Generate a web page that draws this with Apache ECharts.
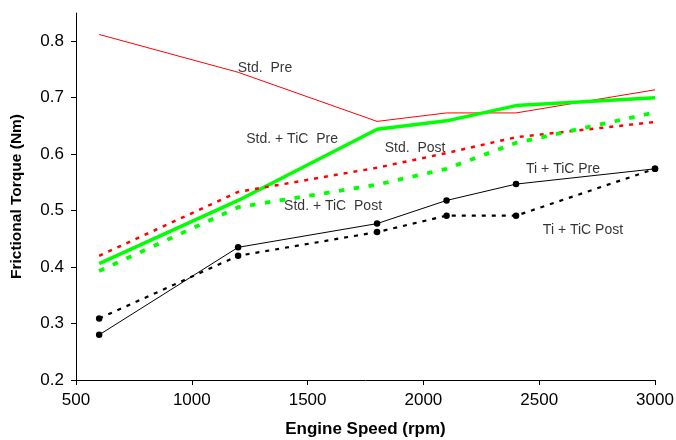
<!DOCTYPE html>
<html><head><meta charset="utf-8">
<script src="https://cdn.jsdelivr.net/npm/echarts@6/dist/echarts.min.js"></script>
<style>html,body{margin:0;padding:0;background:#fff}#c{width:676px;height:440px}</style>
</head><body><div id="c"></div>
<script>
var speeds = [600, 1200, 1800, 2100, 2400, 3000];
var stdPre = [0.812, 0.745, 0.658, 0.673, 0.673, 0.714];
var stdTicPre = [0.406, 0.518, 0.644, 0.659, 0.686, 0.700];
var stdPost = [0.420, 0.533, 0.576, 0.602, 0.630, 0.657];
var stdTicPost = [0.393, 0.506, 0.546, 0.574, 0.620, 0.674];
var tiTicPre = [0.280, 0.435, 0.477, 0.518, 0.547, 0.574];
var tiTicPost = [0.309, 0.420, 0.462, 0.491, 0.491, 0.574];
var yTicks = [0.2, 0.3, 0.4, 0.5, 0.6, 0.7, 0.8];
var xTicks = [500, 1000, 1500, 2000, 2500, 3000];
var labelTexts = ['Std.  Pre', 'Std. + TiC  Pre', 'Std.  Post', 'Ti + TiC Pre', 'Std. + TiC  Post', 'Ti + TiC Post'];
var labelX = [1316, 1433, 1964, 2603, 1610, 2689];
var labelY = [0.753, 0.627, 0.610, 0.574, 0.508, 0.466];

function pairs(ys){ return speeds.map(function(x,i){ return [x, ys[i]]; }); }
var FONT = 'Liberation Sans, Arial, sans-serif';
var chart = echarts.init(document.getElementById('c'));
chart.setOption({
  animation: false,
  grid: {left: 76, right: 21, top: 13, bottom: 60, outerBoundsMode: 'none', containLabel: false},
  xAxis: {
    type: 'value', min: 500, max: 3000, interval: 500,
    name: 'Engine Speed (rpm)', nameLocation: 'middle', nameGap: 41,
    nameTextStyle: {fontFamily: FONT, fontWeight: 'bold', fontSize: 17, color: '#000'},
    axisLine: {lineStyle: {color: '#000', width: 1}},
    axisTick: {show: true, length: 5, customValues: xTicks, lineStyle: {color: '#000'}},
    axisLabel: {fontFamily: FONT, fontSize: 17, color: '#000', margin: 12, customValues: xTicks,
      formatter: function(v){ return String(v); }},
    splitLine: {show: false}
  },
  yAxis: {
    type: 'value', min: 0.2, max: 0.85,
    name: 'Frictional Torque (Nm)', nameLocation: 'middle', nameGap: 51,
    nameTextStyle: {fontFamily: FONT, fontWeight: 'bold', fontSize: 15.5, color: '#000'},
    axisLine: {show: true, lineStyle: {color: '#000', width: 1}},
    axisTick: {show: true, length: 5, customValues: yTicks, lineStyle: {color: '#000'}},
    axisLabel: {fontFamily: FONT, fontSize: 17, color: '#000', margin: 12, customValues: yTicks,
      formatter: function(v){ return v.toFixed(1); }},
    splitLine: {show: false}
  },
  series: [
    {type: 'line', data: pairs(stdPre), symbol: 'none', lineStyle: {color: '#ff0000', width: 1}},
    {type: 'line', data: pairs(stdTicPre), symbol: 'none', lineStyle: {color: '#00ff00', width: 3.5}},
    {type: 'line', data: pairs(stdPost), symbol: 'none', lineStyle: {color: '#ff0000', width: 2.5, type: [4, 6]}},
    {type: 'line', data: pairs(stdTicPost), symbol: 'none', lineStyle: {color: '#00ff00', width: 3.8, type: [5.5, 9.5]}},
    {type: 'line', data: pairs(tiTicPre), symbol: 'circle', symbolSize: 6.5, itemStyle: {color: '#000'}, lineStyle: {color: '#000', width: 1}},
    {type: 'line', data: pairs(tiTicPost), symbol: 'circle', symbolSize: 6.5, itemStyle: {color: '#000'}, lineStyle: {color: '#000', width: 2.2, type: [4, 6]}},
    {type: 'scatter', symbolSize: 0, silent: true,
      data: labelTexts.map(function(t,i){ return {value: [labelX[i], labelY[i]], name: t}; }),
      label: {show: true, position: 'inside', formatter: function(p){ return p.name; },
        fontFamily: FONT, fontSize: 14, color: '#000'}}
  ]
});
</script></body></html>
